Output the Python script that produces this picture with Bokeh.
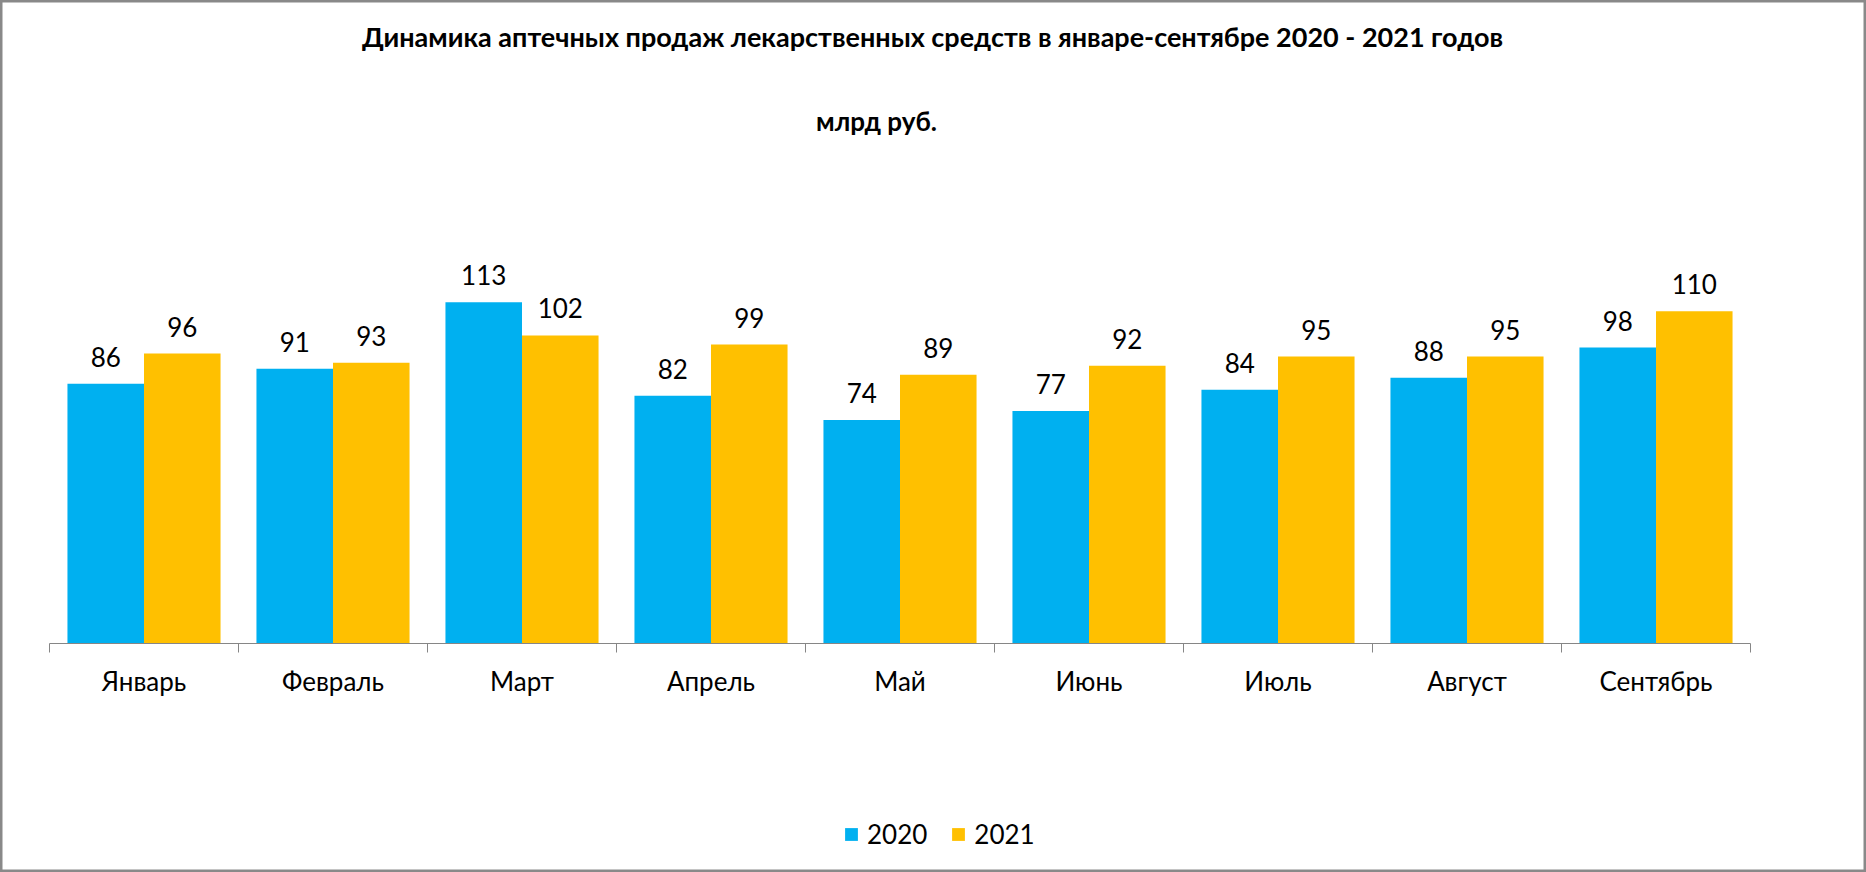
import numpy as np
from bokeh.plotting import figure
from bokeh.models import ColumnDataSource, Range1d, FixedTicker, Label, Legend, LegendItem
from bokeh.core.properties import value
from bokeh.embed import file_html
from bokeh.resources import INLINE

months = ["Январь", "Февраль", "Март", "Апрель", "Май", "Июнь", "Июль", "Август", "Сентябрь"]
series_names = ["2020", "2021"]
sales_2020 = [86, 91, 113, 82, 74, 77, 84, 88, 98]
sales_2021 = [96, 93, 102, 99, 89, 92, 95, 95, 110]
title_text = "Динамика аптечных продаж лекарственных средств в январе-сентябре 2020 - 2021 годов"
subtitle_text = "млрд руб."

COL_2020 = "#00B0F0"
COL_2021 = "#FFC000"
FONT = "Lato"

W, H = 1866, 872
PX_PER_UNIT = 3.02          # vertical scale
PX_PER_CAT = 189.0          # width of one month slot
LEFT, BASE = 49, 643        # where the category axis starts / where value 0 lies

n = len(months)
centers = np.arange(n) + 0.5
bar_w = 0.405

src20 = ColumnDataSource(dict(x=centers - bar_w / 2, top=sales_2020, lab=[str(v) for v in sales_2020]))
src21 = ColumnDataSource(dict(x=centers + bar_w / 2, top=sales_2021, lab=[str(v) for v in sales_2021]))

p = figure(width=W, height=H, output_backend="svg", toolbar_location=None,
           x_range=Range1d(-LEFT / PX_PER_CAT, (W - LEFT) / PX_PER_CAT),
           y_range=Range1d(-(H - BASE) / PX_PER_UNIT, BASE / PX_PER_UNIT),
           y_axis_location=None, min_border_left=0, min_border_right=0,
           min_border_top=0, min_border_bottom=0)
p.outline_line_color = "#898989"
p.outline_line_width = 4
p.xgrid.visible = False
p.ygrid.visible = False
p.background_fill_color = "white"
p.border_fill_color = "white"

r20 = p.vbar(x="x", top="top", width=bar_w, source=src20, fill_color=COL_2020, line_color=None)
r21 = p.vbar(x="x", top="top", width=bar_w, source=src21, fill_color=COL_2021, line_color=None)

for s in (src20, src21):
    p.text(x="x", y="top", text="lab", source=s, text_align="center", text_baseline="middle",
           y_offset=-27, text_font=value(FONT), text_font_size="26px", text_color="#000000")

ax = p.xaxis[0]
ax.fixed_location = 0
ax.bounds = (0, n)
ax.ticker = FixedTicker(ticks=list(centers), minor_ticks=list(np.arange(n + 1)))
ax.major_label_overrides = {float(c): m for c, m in zip(centers, months)}
ax.major_tick_line_color = None
ax.minor_tick_line_color = "#868686"
ax.minor_tick_out = 9
ax.minor_tick_in = 0
ax.axis_line_color = "#868686"
ax.axis_line_width = 1
ax.major_label_text_font = FONT
ax.major_label_text_font_size = "26px"
ax.major_label_text_color = "#000000"
ax.major_label_standoff = 12

p.add_layout(Label(x=932, y=H - 36, x_units="screen", y_units="screen", text=title_text,
                   text_align="center", text_baseline="middle", text_font=FONT,
                   text_font_size="27px", text_font_style="bold", text_color="#000000"))
p.add_layout(Label(x=876, y=H - 120, x_units="screen", y_units="screen", text=subtitle_text,
                   text_align="center", text_baseline="middle", text_font=FONT,
                   text_font_size="26px", text_font_style="bold", text_color="#000000"))

legend = Legend(items=[LegendItem(label=series_names[0], renderers=[r20]),
                       LegendItem(label=series_names[1], renderers=[r21])],
                orientation="horizontal", location=(843, 22),
                glyph_width=16, glyph_height=16, label_standoff=8, spacing=23,
                padding=0, margin=0, border_line_color=None, background_fill_alpha=0,
                label_text_font=FONT, label_text_font_size="26px", label_text_color="#000000")
p.add_layout(legend)

open("out.html", "w").write(file_html(p, INLINE))
